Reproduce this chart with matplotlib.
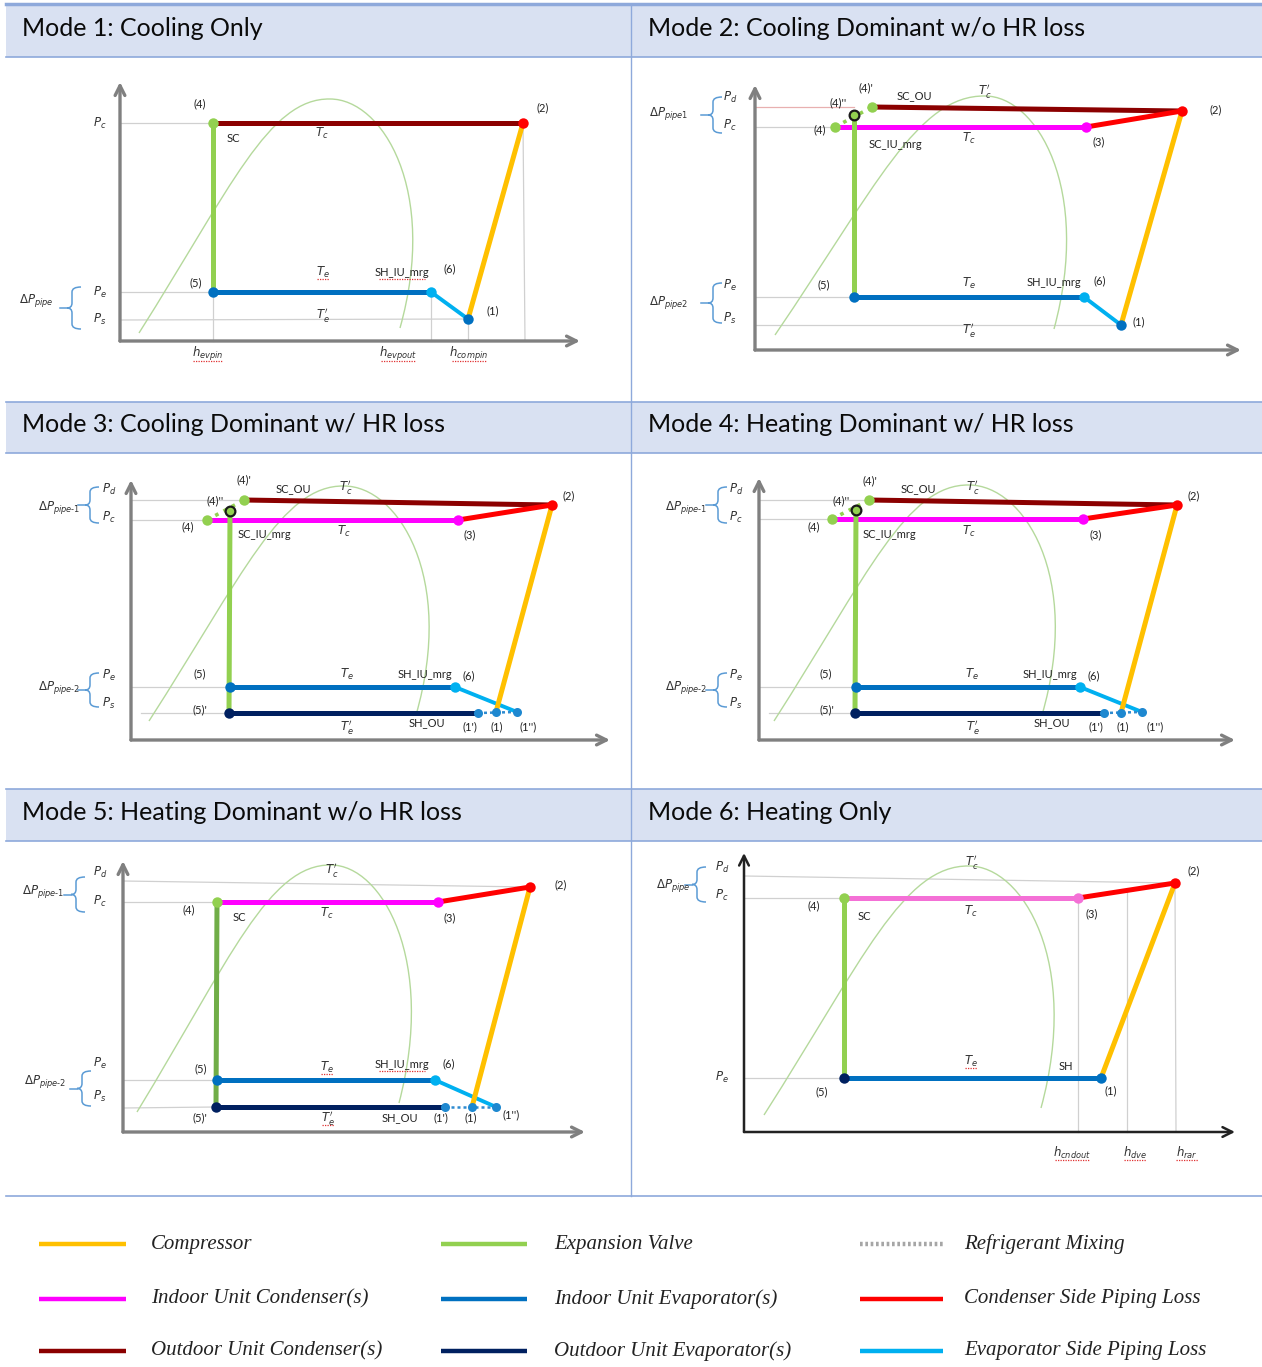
import numpy as np
import matplotlib.pyplot as plt
from matplotlib.path import Path
from matplotlib.patches import PathPatch, Rectangle

plt.rcParams['mathtext.fontset'] = 'dejavusans'

W, H = 1262, 1367

TITLES = ["Mode 1: Cooling Only", "Mode 2: Cooling Dominant w/o HR loss",
          "Mode 3: Cooling Dominant w/ HR loss", "Mode 4: Heating Dominant w/ HR loss",
          "Mode 5: Heating Dominant w/o HR loss", "Mode 6: Heating Only"]

# state points: h = px right of the P axis, P = px above the h axis
M1_PTS = {'1': (348, 22), '2': (403, 218), '4': (93, 218), '5': (93, 49), '6': (311, 49)}
M2_PTS = {'1': (366, 25), '2': (427, 239), '3': (331, 223), '4': (80, 223), "4'": (117, 243),
          "4''": (99, 235), '5': (99, 53), '6': (329, 53)}
M3_PTS = {'1': (365, 28), "1'": (347, 27), "1''": (386, 28), '2': (421, 235), '3': (327, 220),
          '4': (76, 220), "4'": (113, 240), "4''": (99, 229), '5': (99, 53), "5'": (98, 27),
          '6': (324, 53)}
M4_PTS = {'1': (362, 27), "1'": (345, 27), "1''": (383, 28), '2': (418, 235), '3': (324, 221),
          '4': (73, 221), "4'": (110, 240), "4''": (97, 230), '5': (97, 53), "5'": (96, 27),
          '6': (321, 53)}
M5_PTS = {'1': (349, 25), "1'": (322, 25), "1''": (373, 25), '2': (407, 245), '3': (315, 230),
          '4': (94, 230), '5': (94, 52), "5'": (93, 25), '6': (312, 52)}
M6_PTS = {'1': (357, 54), '2': (431, 249), '3': (334, 234), '4': (100, 234), '5': (100, 54)}

# process segments (from, to, kind)
M1_SEG = [('4', '2', 'ouc'), ('4', '5', 'exv'), ('5', '6', 'iue'), ('6', '1', 'evl'), ('1', '2', 'comp')]
M2_SEG = [("4'", '2', 'ouc'), ('3', '2', 'cdl'), ('4', '3', 'iuc'), ('4', "4'", 'mixg'),
          ("4''", '5', 'exv'), ('5', '6', 'iue'), ('6', '1', 'evl'), ('1', '2', 'comp')]
M3_SEG = [("4'", '2', 'ouc'), ('3', '2', 'cdl'), ('4', '3', 'iuc'), ('4', "4'", 'mixg'),
          ("4''", "5'", 'exv'), ('5', '6', 'iue'), ("5'", "1'", 'oue'), ('6', "1''", 'evl'),
          ("1'", "1''", 'mixb'), ('1', '2', 'comp')]
M5_SEG = [('3', '2', 'cdl'), ('4', '3', 'iuc'), ('4', "5'", 'exv5'), ('5', '6', 'iue'),
          ("5'", "1'", 'oue'), ('6', "1''", 'evl'), ("1'", "1''", 'mixb'), ('1', '2', 'comp')]
M6_SEG = [('3', '2', 'cdl'), ('4', '3', 'iuc6'), ('4', '5', 'exv'), ('5', '1', 'iue'), ('1', '2', 'comp')]

# marker colour of each state point
M1_DOT = {'4': 'g', '2': 'r', '5': 'b', '6': 'c', '1': 'b'}
M2_DOT = {'4': 'g', "4'": 'g', "4''": 'o', '2': 'r', '3': 'm', '5': 'b', '6': 'c', '1': 'b'}
M3_DOT = {'4': 'g', "4'": 'g', "4''": 'o', '2': 'r', '3': 'm', '5': 'b', '6': 'c',
          "5'": 'n', "1'": 'p', '1': 'p', "1''": 'p'}
M5_DOT = {'4': 'g', '2': 'r', '3': 'm', '5': 'b', '6': 'c', "5'": 'n', "1'": 'p', '1': 'p', "1''": 'p'}
M6_DOT = {'4': 'g', '2': 'r', '3': 'm6', '5': 'n', '1': 'b'}

# thin guide lines (start, end)
M1_GUIDE = [((0, 218), '4'), ((0, 49), '5'), ((0, 21), '1'), ('5', (93, 0)), ('6', (311, 0)),
            ('1', (348, 0)), ('2', (405, 0))]
M2_GUIDE = [((0, 243), (99, 243)), ((0, 223), '4'), ((0, 53), '5'), ((0, 25), '1')]
M3_GUIDE = [((0, 240), "4'"), ((0, 220), '4'), ((0, 53), '5'), ((10, 27), "5'")]
M4_GUIDE = [((0, 240), "4'"), ((0, 221), '4'), ((0, 53), '5'), ((10, 27), "5'")]
M5_GUIDE = [((0, 251), '2'), ((0, 230), '4'), ((0, 52), '5'), ((0, 24), "5'")]
M6_GUIDE = [((0, 256), '2'), ((0, 234), '4'), ((0, 54), '5'), ('3', (334, 0)), ((383, 242), (383, 0)),
            ('2', (432, 0))]

# saturation dome: start, peak, end
DOMES = [[(19, 8), (210, 242), (280, 13)], [(20, 15), (230, 254), (299, 21)],
         [(18, 19), (213, 254), (285, 25)], [(15, 19), (210, 255), (283, 25)],
         [(14, 20), (208, 267), (276, 29)], [(20, 17), (225, 266), (297, 24)]]

# axis ends (h, P)
AXIS_END = [(460, 259), (486, 265), (479, 260), (476, 262), (462, 271), (491, 279)]

# braces (h, P_bottom, P_top)
M1_BRACE = [(-48, 12, 54)]
M2_BRACE = [(-42, 217, 253), (-42, 27, 67)]
M3_BRACE = [(-41, 217, 253), (-41, 33, 67)]
M4_BRACE = [(-41, 217, 253), (-41, 33, 67)]
M5_BRACE = [(-47, 220, 255), (-41, 26, 61)]
M6_BRACE = [(-47, 230, 265)]

# text labels (text, h, P); a leading "~" marks a spell-check underline
M1_LAB = [('(4)', 80, 237), ('(2)', 423, 233), ('SC', 113, 203), (r'$T_c$', 202, 208), ('(5)', 76, 58),
          (r'~$T_e$', 203, 69), ('~SH_IU_mrg', 282, 69), ('(6)', 330, 72), (r"$T_e'$", 203, 26),
          ('(1)', 373, 30), (r'$P_c$', -20, 218), (r'$P_e$', -20, 49), (r'$P_s$', -20, 22),
          (r'$\Delta P_{pipe}$', -84, 41), (r'~$h_{evpin}$', 88, -13), (r'~$h_{evpout}$', 278, -13),
          (r'~$h_{compin}$', 349, -13)]
M2_LAB = [("(4)'", 111, 262), ("(4)''", 83, 247), ('SC_OU', 159, 254), (r"$T_c'$", 230, 259), ('(2)', 461, 240),
          ('(4)', 65, 220), ('SC_IU_mrg', 140, 205), (r'$T_c$', 214, 212), ('(3)', 344, 208), ('(5)', 69, 65),
          (r'$T_e$', 214, 67), ('SH_IU_mrg', 299, 68), ('(6)', 345, 69), ('(1)', 384, 28), (r"$T_e'$", 214, 20),
          (r'$P_d$', -25, 253), (r'$P_c$', -25, 225), (r'$\Delta P_{pipe1}$', -86, 237),
          (r'$P_e$', -25, 65), (r'$P_s$', -25, 32), (r'$\Delta P_{pipe2}$', -86, 48)]
M3_LAB = [("(4)'", 113, 260), ('SC_OU', 162, 251), (r"$T_c'$", 215, 253), ('(2)', 438, 244), ("(4)''", 84, 239),
          ('(4)', 57, 213), ('SC_IU_mrg', 133, 205), (r'$T_c$', 213, 209), ('(3)', 339, 205), ('(5)', 69, 66),
          (r'$T_e$', 216, 66), ('SH_IU_mrg', 294, 65), ('(6)', 338, 64), ("(5)'", 69, 30), (r"$T_e'$", 216, 13),
          ('SH_OU', 296, 17), ("(1')", 339, 13), ('(1)', 366, 13), ("(1'')", 397, 13),
          (r'$P_d$', -22, 251), (r'$P_c$', -22, 223), (r'$\Delta P_{pipe\text{-}1}$', -72, 232),
          (r'$P_e$', -22, 65), (r'$P_s$', -22, 37), (r'$\Delta P_{pipe\text{-}2}$', -72, 53)]
M4_LAB = [("(4)'", 111, 259), ('SC_OU', 159, 251), (r"$T_c'$", 214, 253), ('(2)', 435, 244), ("(4)''", 82, 239),
          ('(4)', 55, 213), ('SC_IU_mrg', 130, 205), (r'$T_c$', 210, 209), ('(3)', 337, 205), ('(5)', 67, 66),
          (r'$T_e$', 213, 66), ('SH_IU_mrg', 291, 65), ('(6)', 335, 64), ("(5)'", 68, 30), (r"$T_e'$", 214, 13),
          ('SH_OU', 293, 17), ("(1')", 337, 13), ('(1)', 364, 13), ("(1'')", 396, 13),
          (r'$P_d$', -23, 251), (r'$P_c$', -23, 223), (r'$\Delta P_{pipe\text{-}1}$', -73, 232),
          (r'$P_e$', -23, 65), (r'$P_s$', -23, 37), (r'$\Delta P_{pipe\text{-}2}$', -73, 53)]
M5_LAB = [(r"$T_c'$", 209, 262), ('(2)', 438, 247), ('(4)', 66, 222), ('SC', 116, 215), (r'$T_c$', 204, 219),
          ('(3)', 327, 214), ('(5)', 78, 63), (r'~$T_e$', 204, 65), ('~SH_IU_mrg', 279, 68),
          ('(6)', 326, 68), ("(5)'", 77, 14), (r"~$T_e'$", 205, 14), ('SH_OU', 277, 14),
          ("(1')", 318, 14), ('(1)', 348, 14), ("(1'')", 388, 17),
          (r'$P_d$', -23, 260), (r'$P_c$', -23, 231), (r'$\Delta P_{pipe\text{-}1}$', -80, 241),
          (r'$P_e$', -23, 69), (r'$P_s$', -23, 36), (r'$\Delta P_{pipe\text{-}2}$', -78, 50)]
M6_LAB = [(r"$T_c'$", 228, 270), ('(2)', 450, 261), ('(4)', 70, 226), ('SC', 120, 216), (r'$T_c$', 227, 221),
          ('(3)', 348, 218), (r'~$T_e$', 227, 71), ('SH', 322, 65), ('(5)', 78, 40), ('(1)', 367, 41),
          (r'$P_d$', -22, 265), (r'$P_c$', -22, 237), (r'$\Delta P_{pipe}$', -71, 247), (r'$P_e$', -22, 55),
          (r'~$h_{cndout}$', 328, -21), (r'~$h_{dve}$', 391, -21), (r'~$h_{rar}$', 443, -21)]

# legend entries, by column
LEG_COL1 = [('Compressor', 'comp'), ('Indoor Unit Condenser(s)', 'iuc'), ('Outdoor Unit Condenser(s)', 'ouc')]
LEG_COL2 = [('Expansion Valve', 'exv'), ('Indoor Unit Evaporator(s)', 'iue'), ('Outdoor Unit Evaporator(s)', 'oue')]
LEG_COL3 = [('Refrigerant Mixing', 'mixl'), ('Condenser Side Piping Loss', 'cdl'), ('Evaporator Side Piping Loss', 'evl')]

STYLE = {
    'comp': dict(color='#FFC000', lw=3.6),
    'exv': dict(color='#92D050', lw=3.6),
    'exv5': dict(color='#70AD47', lw=3.6),
    'iuc': dict(color='#FF00FF', lw=3.6),
    'iuc6': dict(color='#F470D6', lw=3.6),
    'ouc': dict(color='#8B0000', lw=3.6),
    'iue': dict(color='#0070C0', lw=3.6),
    'oue': dict(color='#002060', lw=3.6),
    'cdl': dict(color='#FF0000', lw=3.6),
    'evl': dict(color='#00B0F0', lw=2.8),
    'mixg': dict(color='#92D050', lw=2.6, ls=(0, (1, 1.6))),
    'mixb': dict(color='#2E8BD0', lw=1.8, ls=(0, (1.2, 1.2))),
    'mixl': dict(color='#A6A6A6', lw=3, ls=(0, (0.6, 0.6))),
}
DOT = {'g': '#92D050', 'r': '#FF0000', 'm': '#FF00FF', 'm6': '#F470D6', 'b': '#0070C0',
       'c': '#00B0F0', 'n': '#002060', 'p': '#1E88D0'}

BAND = '#D9E1F2'
EDGE = '#8EA9DB'

MODES = [
    (M1_PTS, M1_SEG, M1_DOT, M1_GUIDE, M1_BRACE, M1_LAB),
    (M2_PTS, M2_SEG, M2_DOT, M2_GUIDE, M2_BRACE, M2_LAB),
    (M3_PTS, M3_SEG, M3_DOT, M3_GUIDE, M3_BRACE, M3_LAB),
    (M4_PTS, M3_SEG, M3_DOT, M4_GUIDE, M4_BRACE, M4_LAB),
    (M5_PTS, M5_SEG, M5_DOT, M5_GUIDE, M5_BRACE, M5_LAB),
    (M6_PTS, M6_SEG, M6_DOT, M6_GUIDE, M6_BRACE, M6_LAB),
]

# panel layout in pixels
COL_X = [(6, 631), (632, 1262)]
ROW_HEAD = [(5, 57), (402, 453), (789, 841)]
ROW_BODY = [(58, 401), (454, 787), (842, 1195)]
ORIGINS = [(120, 341), (755, 350), (131, 740), (759, 740), (123, 1132), (744, 1132)]


def xy(pts, ref):
    return pts[ref] if isinstance(ref, str) else ref


def dome(ax, s, p, e):
    (xs, ys), (xp, yp), (xe, ye) = s, p, e
    verts = [s, (xs + 0.48 * (xp - xs), ys + 0.62 * (yp - ys)), (xp - 0.32 * (xp - xs), yp + 1), p,
             (xp + 0.75 * (xe - xp), yp), (xe + 0.55 * (xe - xp), ye + 0.6 * (yp - ye)), e]
    codes = [Path.MOVETO] + [Path.CURVE4] * 6
    ax.add_patch(PathPatch(Path(verts, codes), fill=False, ec='#B5D99C', lw=1.0, zorder=1))


def brace(ax, x, lo, hi):
    mid = (lo + hi) / 2
    verts = [(x + 9, hi), (x, hi), (x, hi - 5), (x, mid + 5), (x, mid), (x - 5, mid),
             (x, mid), (x, mid - 5), (x, lo + 5), (x, lo), (x + 9, lo)]
    codes = [Path.MOVETO, Path.CURVE3, Path.CURVE3, Path.LINETO, Path.CURVE3, Path.CURVE3,
             Path.CURVE3, Path.CURVE3, Path.LINETO, Path.CURVE3, Path.CURVE3]
    ax.add_patch(PathPatch(Path(verts, codes), fill=False, ec='#5B9BD5', lw=1.1))
    ax.plot([x - 5, x - 12], [mid, mid], color='#5B9BD5', lw=1.1)


fig = plt.figure(figsize=(W / 100, H / 100), dpi=100)
bg = fig.add_axes([0, 0, 1, 1])
bg.set_xlim(0, W)
bg.set_ylim(H, 0)
bg.axis('off')

# header bands and frame lines
for (y0, y1) in ROW_HEAD:
    bg.add_patch(Rectangle((6, y0), W - 6, y1 - y0, fc=BAND, ec='none'))
    bg.plot([6, W], [y0, y0], color=EDGE, lw=1.2)
    bg.plot([6, W], [y1, y1], color=EDGE, lw=1.2)
bg.plot([6, W], [4, 4], color=EDGE, lw=2.5)
bg.plot([6, W], [1196, 1196], color=EDGE, lw=1.2)
bg.plot([631, 631], [4, 1196], color=EDGE, lw=1)

for i, title in enumerate(TITLES):
    r, c = divmod(i, 2)
    y0, y1 = ROW_HEAD[r]
    bg.text(COL_X[c][0] + 16, (y0 + y1) / 2 - 3, title, fontsize=18, family='Lato',
            va='center', ha='left', color='#0A0A0A')

for i, (pts, segs, dots, guides, braces, labs) in enumerate(MODES):
    r, c = divmod(i, 2)
    X0, X1 = COL_X[c]
    Y0, Y1 = ROW_BODY[r]
    ox, oy = ORIGINS[i]
    ax = fig.add_axes([X0 / W, 1 - Y1 / H, (X1 - X0) / W, (Y1 - Y0) / H])
    ax.set_xlim(X0 - ox, X1 - ox)
    ax.set_ylim(oy - Y1, oy - Y0)
    ax.axis('off')

    axc = '#222222' if i == 5 else '#808080'
    hx, py = AXIS_END[i]
    for end in [(hx, 0), (0, py)]:
        ax.annotate('', xy=end, xytext=(0, 0),
                    arrowprops=dict(arrowstyle='->,head_length=0.7,head_width=0.35',
                                    color=axc, lw=2.4 if i < 5 else 1.8, shrinkA=0, shrinkB=0))

    for a, b in guides:
        (x0, y0), (x1, y1) = xy(pts, a), xy(pts, b)
        gc = '#E8B0B0' if (i == 1 and y0 > 240) else '#D0D0D0'
        ax.plot([x0, x1], [y0, y1], color=gc, lw=0.9, zorder=1)

    dome(ax, *DOMES[i])

    for a, b, kind in segs:
        (x0, y0), (x1, y1) = pts[a], pts[b]
        st = STYLE[kind]
        ax.plot([x0, x1], [y0, y1], color=st['color'], lw=st['lw'], ls=st.get('ls', '-'),
                solid_capstyle='butt', zorder=3)

    for name, key in dots.items():
        hx0, p0 = pts[name]
        if key == 'o':
            ax.plot(hx0, p0, 'o', ms=7, mfc='#92D050', mec='#1A1A1A', mew=1.6, zorder=5)
        else:
            ms = 6.5 if key == 'p' else 7.5
            ax.plot(hx0, p0, 'o', ms=ms, color=DOT[key], mec='none', zorder=4)

    for bx, lo, hi in braces:
        brace(ax, bx, lo, hi)

    for text, tx, ty in labs:
        mark = text.startswith('~')
        text = text.lstrip('~')
        if text.startswith('$'):
            ax.text(tx, ty, text, fontsize=8.5, ha='center', va='center', color='#333333')
            half = 4 + 2.2 * len(text.split('_')[-1].strip('${}\''))
        else:
            ax.text(tx, ty, text, fontsize=8, family='Lato', ha='center', va='center', color='#222222')
            half = 2.6 * len(text)
        if mark:
            ax.plot([tx - half, tx + half], [ty - 7, ty - 7], color='#E03030', lw=0.9,
                    ls=(0, (1, 1)), zorder=6)

# legend
LEG_ROWS = [1244, 1299, 1351]
LEG_X = [(39, 126, 151), (441, 527, 554), (860, 943, 964)]
for (x0, x1, tx), col in zip(LEG_X, [LEG_COL1, LEG_COL2, LEG_COL3]):
    for y, (text, kind) in zip(LEG_ROWS, col):
        st = STYLE[kind]
        bg.plot([x0, x1], [y, y], color=st['color'], lw=3.2, ls=st.get('ls', '-'), solid_capstyle='butt')
        bg.text(tx, y, text, fontsize=15, family='Liberation Serif', style='italic',
                ha='left', va='center', color='#222222')

fig.savefig('out.png', dpi=100)
